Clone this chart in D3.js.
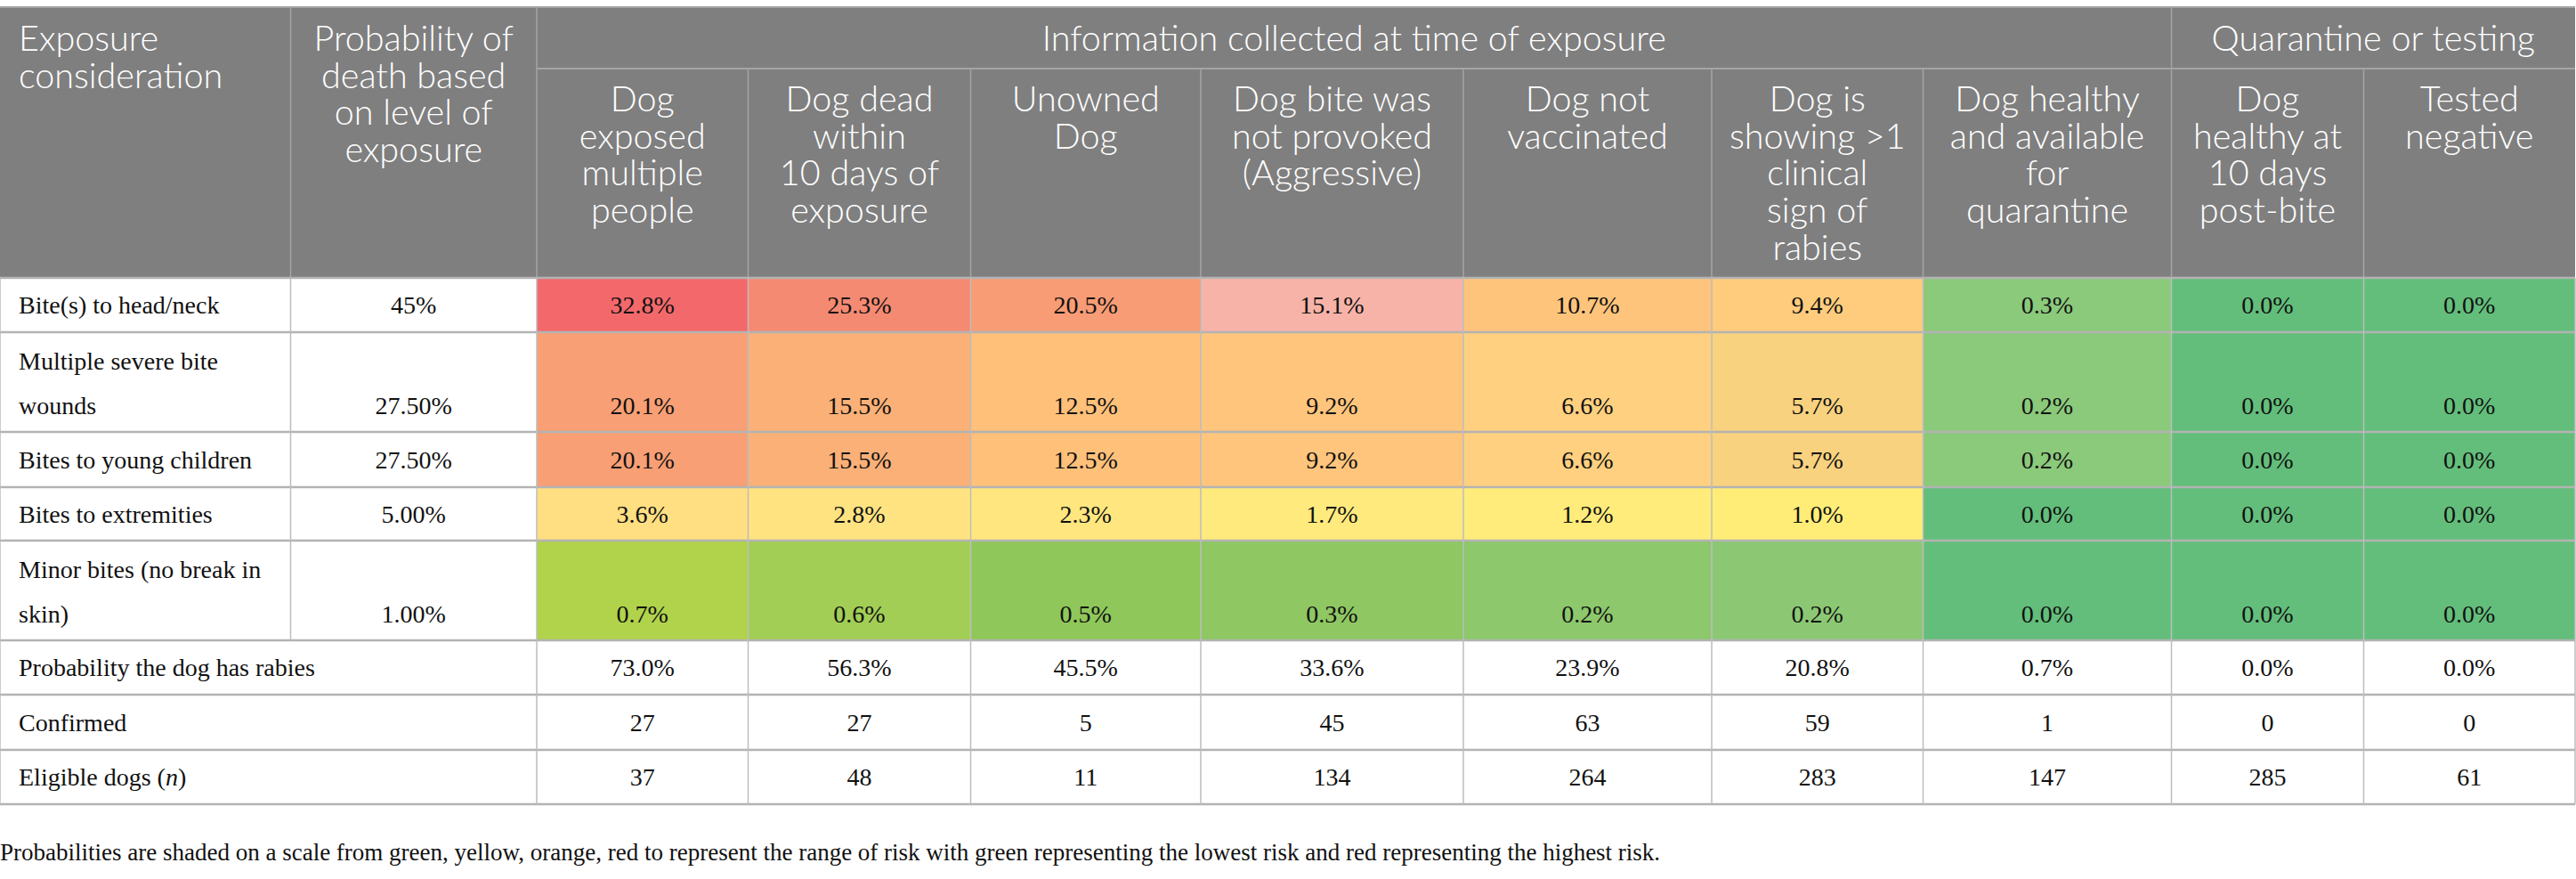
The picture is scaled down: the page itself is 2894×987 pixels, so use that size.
<!DOCTYPE html>
<html>
<head>
<meta charset="utf-8">
<script src="https://cdn.jsdelivr.net/npm/d3@7"></script>
<style>
  body { margin: 0; background: #fff; }
  .hd { font-family: Lato, "Open Sans", sans-serif; font-weight: 300; fill: #fff; }
  .bd { font-family: "Liberation Serif", "DejaVu Serif", serif; fill: #111; }
</style>
</head>
<body>
<div id="main"></div>
<script>
// table content
const groupHeaders = ['Information collected at time of exposure', 'Quarantine or testing'];
const groupSpans = [7, 2];

const columnHeaders = [
  ['Dog', 'exposed', 'multiple', 'people'],
  ['Dog dead', 'within', '10 days of', 'exposure'],
  ['Unowned', 'Dog'],
  ['Dog bite was', 'not provoked', '(Aggressive)'],
  ['Dog not', 'vaccinated'],
  ['Dog is', 'showing >1', 'clinical', 'sign of', 'rabies'],
  ['Dog healthy', 'and available', 'for', 'quarantine'],
  ['Dog', 'healthy at', '10 days', 'post-bite'],
  ['Tested', 'negative']
];

const exposureLabels = [
  ['Bite(s) to head/neck'],
  ['Multiple severe bite', 'wounds'],
  ['Bites to young children'],
  ['Bites to extremities'],
  ['Minor bites (no break in', 'skin)']
];
const deathProbability = ['45%', '27.50%', '27.50%', '5.00%', '1.00%'];

const exposureProbs = [
  [32.8, 25.3, 20.5, 15.1, 10.7, 9.4, 0.3, 0.0, 0.0],
  [20.1, 15.5, 12.5, 9.2, 6.6, 5.7, 0.2, 0.0, 0.0],
  [20.1, 15.5, 12.5, 9.2, 6.6, 5.7, 0.2, 0.0, 0.0],
  [3.6, 2.8, 2.3, 1.7, 1.2, 1.0, 0.0, 0.0, 0.0],
  [0.7, 0.6, 0.5, 0.3, 0.2, 0.2, 0.0, 0.0, 0.0]
];

const rabiesProb = [73.0, 56.3, 45.5, 33.6, 23.9, 20.8, 0.7, 0.0, 0.0];
const confirmed = [27, 27, 5, 45, 63, 59, 1, 0, 0];
const eligibleDogs = [37, 48, 11, 134, 264, 283, 147, 285, 61];

const footnote = 'Probabilities are shaded on a scale from green, yellow, orange, red to represent the range of risk with green representing the lowest risk and red representing the highest risk.';

// shading as it appears in the source table
const cellColors = [
  ['#f3696b', '#f58a73', '#f89c76', '#f8b3a8', '#fec47c', '#ffcc7e', '#8bc97b', '#63be7b', '#63be7b'],
  ['#f89f75', '#fab077', '#ffc07a', '#ffc57c', '#ffd07f', '#f9d27f', '#8bc97b', '#63be7b', '#63be7b'],
  ['#f89f75', '#fab077', '#ffc07a', '#ffc57c', '#ffd07f', '#f9d27f', '#8bc97b', '#63be7b', '#63be7b'],
  ['#ffdf82', '#ffe381', '#ffe67f', '#ffea7e', '#ffec7a', '#ffed78', '#63be7b', '#63be7b', '#63be7b'],
  ['#b1d34b', '#a2ce55', '#8fc75a', '#8fc763', '#8dc86c', '#8cc874', '#63be7b', '#63be7b', '#63be7b']
];

const width = 2894;
const height = 987;

const svg = d3.select('#main')
  .append('svg')
  .attr('width', width)
  .attr('height', height);

// column and row edges of the table grid
const colEdges = [0, 326.5, 603, 840.5, 1090.5, 1349, 1644, 1923, 2160.5, 2439.5, 2655.5, 2893];
const rowEdges = [8, 77, 312, 373, 485, 547, 607, 719, 780, 842, 903];

const colIdx = d3.range(colEdges.length - 1);
const rowIdx = d3.range(rowEdges.length - 1);
const x = d3.scaleOrdinal().domain(colIdx).range(colEdges.slice(0, -1));
const xEnd = d3.scaleOrdinal().domain(colIdx).range(colEdges.slice(1));
const y = d3.scaleOrdinal().domain(rowIdx).range(rowEdges.slice(0, -1));
const yEnd = d3.scaleOrdinal().domain(rowIdx).range(rowEdges.slice(1));
const xMid = i => (x(i) + xEnd(i)) / 2;

const headFill = '#7f7f7f';
const headLine = '#a5a5a5';
const bodyLine = '#bdbdbd';

// header background
svg.append('rect')
  .attr('x', x(0)).attr('y', y(0))
  .attr('width', xEnd(10) - x(0)).attr('height', yEnd(1) - y(0))
  .attr('fill', headFill);

// body cells
const cells = [];
exposureProbs.forEach((row, r) => row.forEach((v, c) => {
  cells.push({ r: r + 2, c: c + 2, v, fill: cellColors[r][c] });
}));

svg.append('g').selectAll('rect')
  .data(cells)
  .join('rect')
    .attr('x', d => x(d.c))
    .attr('y', d => y(d.r))
    .attr('width', d => xEnd(d.c) - x(d.c))
    .attr('height', d => yEnd(d.r) - y(d.r))
    .attr('fill', d => d.fill);

// grid lines
const grid = svg.append('g');
// header outer and inner lines
grid.append('line').attr('x1', x(0)).attr('x2', xEnd(10)).attr('y1', y(0)).attr('y2', y(0))
  .attr('stroke', headLine).attr('stroke-width', 2);
grid.append('line').attr('x1', x(2)).attr('x2', xEnd(10)).attr('y1', yEnd(0)).attr('y2', yEnd(0))
  .attr('stroke', headLine).attr('stroke-width', 2);
// header verticals
const headVert = [
  { c: 1, y1: y(0), y2: yEnd(1) },
  { c: 2, y1: y(0), y2: yEnd(1) },
  { c: 9, y1: y(0), y2: yEnd(1) }
];
[3, 4, 5, 6, 7, 8, 10].forEach(c => headVert.push({ c, y1: y(1), y2: yEnd(1) }));
grid.selectAll('.hv')
  .data(headVert)
  .join('line')
    .attr('class', 'hv')
    .attr('x1', d => x(d.c)).attr('x2', d => x(d.c))
    .attr('y1', d => d.y1).attr('y2', d => d.y2)
    .attr('stroke', headLine).attr('stroke-width', 1.5);

// body horizontals
grid.selectAll('.bh')
  .data(d3.range(2, 11))
  .join('line')
    .attr('class', 'bh')
    .attr('x1', x(0)).attr('x2', xEnd(10))
    .attr('y1', r => r === 10 ? yEnd(9) : y(r))
    .attr('y2', r => r === 10 ? yEnd(9) : y(r))
    .attr('stroke', '#b3b3b3').attr('stroke-width', 2.5);

// body verticals
const bodyVert = [];
colIdx.concat([11]).forEach(c => {
  const xx = c === 11 ? xEnd(10) : x(c);
  // column 1 edge only spans the exposure rows
  const rows = c === 1 ? [2, 3, 4, 5, 6] : rowIdx.slice(2);
  rows.forEach(r => bodyVert.push({ xx, y1: y(r), y2: yEnd(r) }));
});
grid.selectAll('.bv')
  .data(bodyVert)
  .join('line')
    .attr('class', 'bv')
    .attr('x1', d => d.xx).attr('x2', d => d.xx)
    .attr('y1', d => d.y1).attr('y2', d => d.y2)
    .attr('stroke', bodyLine).attr('stroke-width', 1.5);

// header text
const headSize = 39.5;
const headLead = 41.7;
const ht = svg.append('g').attr('class', 'hd').attr('font-size', headSize);

const drawLines = (g, lines, xx, y0, anchor, lead) => {
  const t = g.append('text').attr('text-anchor', anchor);
  lines.forEach((s, i) => {
    t.append('tspan').attr('x', xx).attr('y', y0 + i * lead).text(s);
  });
  return t;
};

drawLines(ht, ['Exposure', 'consideration'], x(0) + 21, 57, 'start', headLead);
drawLines(ht, ['Probability of', 'death based', 'on level of', 'exposure'], xMid(1), 57, 'middle', headLead);

let gc = 2;
groupHeaders.forEach((label, i) => {
  const x0 = x(gc);
  const x1 = xEnd(gc + groupSpans[i] - 1);
  ht.append('text').attr('text-anchor', 'middle')
    .attr('x', (x0 + x1) / 2).attr('y', 57).text(label);
  gc += groupSpans[i];
});

columnHeaders.forEach((lines, i) => {
  drawLines(ht, lines, xMid(i + 2), 125, 'middle', headLead);
});

// body text
const bodySize = 28;
const bt = svg.append('g').attr('class', 'bd').attr('font-size', bodySize);
const bodyLead = 49.5;

exposureLabels.forEach((lines, i) => {
  const r = i + 2;
  const two = lines.length > 1;
  const y0 = two ? y(r) + 42 : (y(r) + yEnd(r)) / 2 + 9.5;
  drawLines(bt, lines, x(0) + 21, y0, 'start', bodyLead);
  const vy = two ? y0 + bodyLead : y0;
  bt.append('text').attr('text-anchor', 'middle')
    .attr('x', xMid(1)).attr('y', vy).text(deathProbability[i]);
  exposureProbs[i].forEach((v, c) => {
    bt.append('text').attr('text-anchor', 'middle')
      .attr('x', xMid(c + 2)).attr('y', vy).text(d3.format('.1f')(v) + '%');
  });
});

const summaryRows = [
  { label: 'Probability the dog has rabies', values: rabiesProb.map(v => d3.format('.1f')(v) + '%') },
  { label: 'Confirmed', values: confirmed.map(String) },
  { label: 'Eligible dogs (', italic: 'n', after: ')', values: eligibleDogs.map(String) }
];

summaryRows.forEach((row, i) => {
  const r = i + 7;
  const yy = (y(r) + yEnd(r)) / 2 + 9.5;
  const t = bt.append('text').attr('x', x(0) + 21).attr('y', yy);
  t.append('tspan').text(row.label);
  if (row.italic) {
    t.append('tspan').attr('font-style', 'italic').text(row.italic);
    t.append('tspan').text(row.after);
  }
  row.values.forEach((v, c) => {
    bt.append('text').attr('text-anchor', 'middle')
      .attr('x', xMid(c + 2)).attr('y', yy).text(v);
  });
});

// footnote
svg.append('text')
  .attr('class', 'bd')
  .attr('font-size', 27)
  .attr('x', 0)
  .attr('y', 966)
  .text(footnote);
</script>
</body>
</html>
